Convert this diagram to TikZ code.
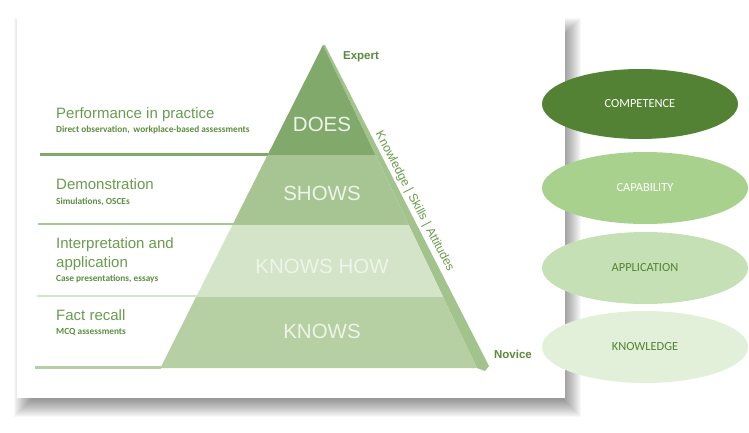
\documentclass[tikz,border=0pt]{standalone}
\usepackage{fontspec}
\setmainfont{Liberation Sans}
\newfontfamily\carl{Carlito}
\usetikzlibrary{shapes.geometric}
\definecolor{cDoes}{HTML}{80A96B}
\definecolor{cShows}{HTML}{A6C592}
\definecolor{cHow}{HTML}{D4E4C8}
\definecolor{cKnows}{HTML}{B6CFA3}
\definecolor{cStrip}{HTML}{A2C38C}
\definecolor{cHead}{HTML}{6A9C4E}
\definecolor{cSub}{HTML}{5E8E40}
\definecolor{cTag}{HTML}{5A8A3C}
\definecolor{cComp}{HTML}{548235}
\definecolor{cCap}{HTML}{A9D18E}
\definecolor{cApp}{HTML}{C5E0B4}
\definecolor{cKnow}{HTML}{E2F0D9}
\definecolor{cLvl}{HTML}{EEF4E8}
\tikzset{
  head/.style={anchor=base west, text=cHead, font=\fontsize{15}{17}\selectfont, inner sep=0},
  sub/.style={anchor=base west, text=cSub, font=\carl\bfseries\fontsize{9.3}{11}\selectfont, inner sep=0},
  lvl/.style={text=cLvl, font=\fontsize{20.5}{22}\selectfont, inner sep=0},
  tag/.style={text=cTag, font=\bfseries\fontsize{11.5}{13}\selectfont, inner sep=0},
  oval/.style={ellipse, inner sep=0, font=\carl\fontsize{12.4}{14}\selectfont},
}
\begin{document}
\begin{tikzpicture}[x=1pt,y=-1pt]
\useasboundingbox (0,0) rectangle (749,433);
% card shadow
\foreach \k in {0,...,19}{
  \pgfmathsetmacro{\e}{9-\k}
  \fill[black,opacity=0.028] (23-\e,27-\e) rectangle (572+\e,408+\e);
}
\fill[white] (17,17) rectangle (565,398);
% pyramid coordinates
\coordinate (apex) at (323,45);
\coordinate (l1) at (267.6,155); \coordinate (r1) at (375.4,155);
\coordinate (l2) at (232.4,225); \coordinate (r2) at (408.8,225);
\coordinate (l3) at (196.1,297); \coordinate (r3) at (443.2,297);
\coordinate (l4) at (160.4,368); \coordinate (r4) at (477.0,368);
% side strip
\fill[cStrip] (apex) -- (325,45) -- (489,366) -- (485,371) -- (r4) -- cycle;
% bands
\fill[cDoes] (apex) -- (l1) -- (r1) -- cycle;
\fill[cShows] (l1) -- (l2) -- (r2) -- (r1) -- cycle;
\fill[cHow] (l2) -- (l3) -- (r3) -- (r2) -- cycle;
\fill[cKnows] (l3) -- (l4) -- (r4) -- (r3) -- cycle;
% left rules
\coordinate (s1) at (40,154); \coordinate (s2) at (38,224);
\coordinate (s3) at (37,296); \coordinate (s4) at (35,367.5);
\draw[cDoes,line width=3] (s1) -- (268.1,154);
\draw[cShows,line width=2] (s2) -- (233,224);
\draw[cHow,line width=2] (s3) -- (197,296);
\draw[cKnows,line width=2.5] (s4) -- (161,367.5);
% level labels
\node[lvl] (does) at (322,124) {DOES};
\node[lvl] (shows) at (322,193) {SHOWS};
\node[lvl] (knowshow) at (322,266) {KNOWS HOW};
\node[lvl] (knows) at (322,331) {KNOWS};
% left descriptions
\node[head] (h1) at (56,118.5) {Performance in practice};
\node[sub] (d1) at (56,132) {Direct observation,\, workplace-based assessments};
\node[head] (h2) at (56,189.5) {Demonstration};
\node[sub] (d2) at (56,204.5) {Simulations, OSCEs};
\node[head] (h3) at (56,248.5) {Interpretation and};
\node[head] (h3b) at (56,267) {application};
\node[sub] (d3) at (56,281.5) {Case presentations, essays};
\node[head] (h4) at (56,320) {Fact recall};
\node[sub] (d4) at (56,334) {MCQ assessments};
% tags
\node[tag] (expert) at (361,57) {Expert};
\node[tag] (novice) at (513,354) {Novice};
\node[text=cHead, font=\fontsize{12.2}{14}\selectfont, rotate=-62.3, inner sep=0] (ksa) at (414.5,201.5) {Knowledge | Skills | Attitudes};
% ovals
\node[oval, fill=cComp, text=white, minimum width=196, minimum height=70] (comp) at (640,104) {COMPETENCE};
\node[oval, fill=cCap, text=white, minimum width=206, minimum height=72] (cap) at (645,188) {CAPABILITY};
\node[oval, fill=cApp, text=cComp, minimum width=206, minimum height=72] (app) at (645,268) {APPLICATION};
\node[oval, fill=cKnow, text=cComp, minimum width=206, minimum height=72] (know) at (645,347) {KNOWLEDGE};
\end{tikzpicture}
\end{document}
